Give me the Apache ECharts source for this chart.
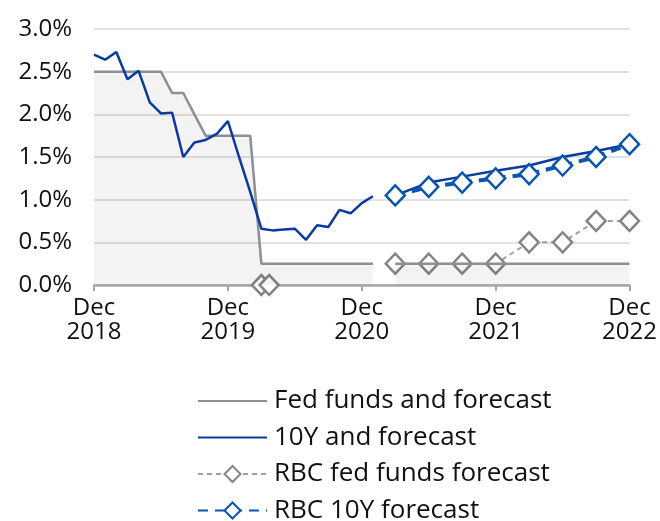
<!DOCTYPE html>
<html>
<head>
<meta charset="utf-8">
<script src="https://cdn.jsdelivr.net/npm/echarts@6/dist/echarts.min.js"></script>
<style>
html,body{margin:0;padding:0;background:#fff;}
#chart{width:660px;height:521px;}
</style>
</head>
<body>
<div id="chart"></div>
<script>
// x positions are months since Dec 2018
var xTickLabels = ['Dec\n2018', 'Dec\n2019', 'Dec\n2020', 'Dec\n2021', 'Dec\n2022'];
var yTickLabels = ['0.0%', '0.5%', '1.0%', '1.5%', '2.0%', '2.5%', '3.0%'];

var fedMonths = [0,1,2,3,4,5,6,7,8,9,10,11,12,13,14,15,16,17,18,19,20,21,22,23,24,25,26,27,30,33,36,39,42,45,48];
var fedValues = [2.5,2.5,2.5,2.5,2.5,2.5,2.5,2.25,2.25,2.0,1.75,1.75,1.75,1.75,1.75,0.25,0.25,0.25,0.25,0.25,0.25,0.25,0.25,0.25,0.25,0.25,null,0.25,0.25,0.25,0.25,0.25,0.25,0.25,0.25];

var tenYMonths = [0,1,2,3,4,5,6,7,8,9,10,11,12,13,14,15,16,17,18,19,20,21,22,23,24,25,26,27,30,33,36,39,42,45,48];
var tenYValues = [2.70,2.64,2.73,2.41,2.51,2.14,2.01,2.02,1.50,1.67,1.70,1.77,1.92,1.50,1.09,0.66,0.64,0.65,0.66,0.53,0.70,0.68,0.88,0.84,0.96,1.04,null,1.05,1.20,1.27,1.34,1.40,1.50,1.57,1.65];

var rbcFedMonths = [15,15.7,26,27,30,33,36,39,42,45,48];
var rbcFedValues = [0,0,null,0.25,0.25,0.25,0.25,0.5,0.5,0.75,0.75];

var rbc10YMonths = [27,30,33,36,39,42,45,48];
var rbc10YValues = [1.05,1.15,1.20,1.25,1.30,1.40,1.50,1.65];

var seriesNames = ['Fed funds and forecast', '10Y and forecast', 'RBC fed funds forecast', 'RBC 10Y forecast'];

function pairs(xs, ys) {
  return xs.map(function (x, i) { return [x, ys[i]]; });
}

var FONT = 'Open Sans';
var TXT = '#111111';
var chart = echarts.init(document.getElementById('chart'), null, {renderer: 'canvas'});
chart.setOption({
  animation: false,
  backgroundColor: '#ffffff',
  textStyle: {fontFamily: FONT},
  grid: {left: 94, right: 30, top: 29, bottom: 236, containLabel: false},
  xAxis: {
    type: 'value', min: 0, max: 48, interval: 12,
    axisLine: {show: true, lineStyle: {color: '#a6a6a6', width: 2.5}},
    axisTick: {show: true, length: 6, lineStyle: {color: '#a6a6a6', width: 2}},
    splitLine: {show: false},
    axisLabel: {
      color: TXT, fontSize: 24, lineHeight: 24, margin: 11, fontFamily: FONT,
      formatter: function (v) { return xTickLabels[Math.round(v / 12)]; }
    }
  },
  yAxis: {
    type: 'value', min: 0, max: 3, interval: 0.5,
    axisLine: {show: false}, axisTick: {show: false},
    splitLine: {show: true, lineStyle: {color: '#d9d9d9', width: 1.5}},
    axisLabel: {
      color: TXT, fontSize: 24, margin: 22, fontFamily: FONT,
      formatter: function (v) { return yTickLabels[Math.round(v / 0.5)]; }
    }
  },
  legend: {
    orient: 'vertical', left: 197, top: 387, height: 150, padding: 0,
    itemWidth: 69, itemHeight: 20, itemGap: 8.5,
    textStyle: {fontSize: 26, lineHeight: 28, color: TXT, fontFamily: FONT, padding: [0,0,0,2]},
    data: [
      {name: seriesNames[0], itemStyle: {opacity: 0}},
      {name: seriesNames[1], itemStyle: {opacity: 0}},
      {name: seriesNames[2]},
      {name: seriesNames[3]}
    ]
  },
  series: [
    {
      name: seriesNames[0], type: 'line', z: 4,
      data: pairs(fedMonths, fedValues),
      showSymbol: false, symbol: 'none', connectNulls: false,
      lineStyle: {color: '#8a9096', width: 2.5},
      itemStyle: {color: '#8a9096'},
      areaStyle: {color: 'rgba(0,0,0,0.065)', origin: 'start'}
    },
    {
      name: seriesNames[1], type: 'line', z: 5,
      data: pairs(tenYMonths, tenYValues),
      showSymbol: false, symbol: 'none', connectNulls: false,
      lineStyle: {color: '#0a3a9e', width: 2.5},
      itemStyle: {color: '#0a3a9e'}
    },
    {
      name: seriesNames[2], type: 'line', z: 3,
      data: pairs(rbcFedMonths, rbcFedValues),
      connectNulls: false,
      symbol: 'diamond', symbolSize: [19, 20], showAllSymbol: true,
      lineStyle: {color: '#9aa0a6', width: 2, type: [5, 4]},
      itemStyle: {color: '#ffffff', borderColor: '#858585', borderWidth: 2.5}
    },
    {
      name: seriesNames[3], type: 'line', z: 6,
      data: pairs(rbc10YMonths, rbc10YValues),
      symbol: 'diamond', symbolSize: [19, 20], showAllSymbol: true,
      lineStyle: {color: '#0a55b0', width: 4, type: [10, 7]},
      itemStyle: {color: '#ffffff', borderColor: '#0a55b0', borderWidth: 2.5}
    }
  ]
});
</script>
</body>
</html>
